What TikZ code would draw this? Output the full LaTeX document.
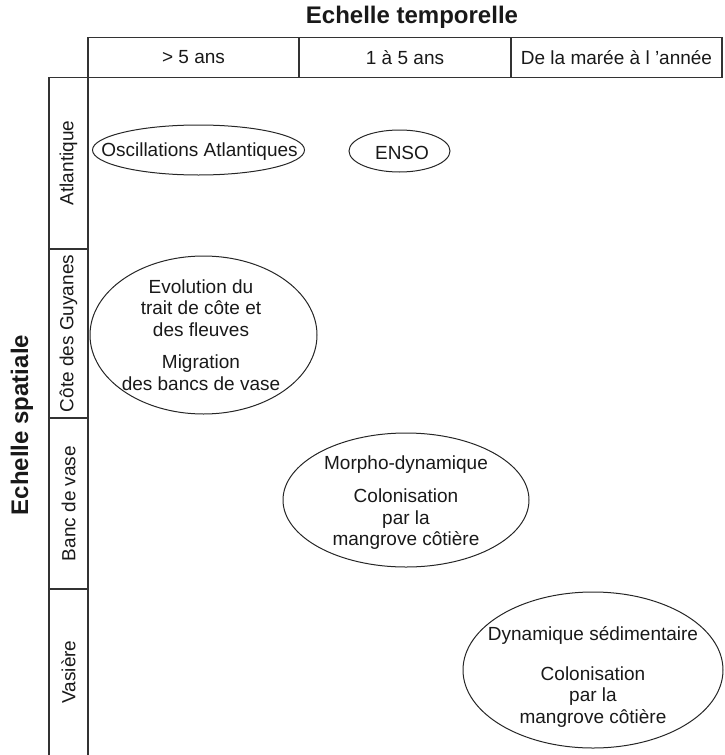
\documentclass[tikz,border=0pt]{standalone}
\usepackage{fontspec}
\setmainfont{Liberation Sans}
\usetikzlibrary{shapes.geometric}
\tikzset{
  grid/.style={line width=1.1pt, draw=black!80},
  bubble/.style={ellipse, draw=black!85, line width=1pt, inner sep=0pt},
  txt/.style={font=\fontsize{19}{21.7}\selectfont, align=center, inner sep=0pt, text=black!90},
  ttl/.style={font=\fontsize{24}{27}\selectfont\bfseries, inner sep=0pt, text=black!90}
}
\begin{document}
\begin{tikzpicture}[x=1pt,y=-1pt]
\useasboundingbox (0,0) rectangle (725,755);
% header
\draw[grid] (88,37.5) rectangle (722,77.5);
\draw[grid] (299,37.5) -- (299,77.5);
\draw[grid] (511,37.5) -- (511,77.5);
% left column
\draw[grid] (88,77.5) -- (88,755);
\draw[grid] (49,755) -- (49,77.5) -- (88,77.5);
\draw[grid] (49,249) -- (88,249);
\draw[grid] (49,418) -- (88,418);
\draw[grid] (49,589) -- (88,589);
% titles
\node[ttl] (tt) at (412,17) {Echelle temporelle};
\node[ttl, rotate=90] (ts) at (22,425) {Echelle spatiale};
% header labels
\node[txt] (h1) at (193.5,57.5) {> 5 ans};
\node[txt] (h2) at (405,57.5) {1 à 5 ans};
\node[txt] (h3) at (616.5,57.5) {De la marée à l 'année};
% row labels
\node[txt, rotate=90] (r1) at (68.5,163) {Atlantique};
\node[txt, rotate=90] (r2) at (68.5,333.5) {Côte des Guyanes};
\node[txt, rotate=90] (r3) at (68.5,503.5) {Banc de vase};
\node[txt, rotate=90] (r4) at (68.5,672) {Vasière};
% ellipses
\node[bubble, minimum width=212pt, minimum height=50pt] (e1) at (198.5,150) {};
\node[txt] (t1) at (199.5,151.5) {Oscillations Atlantiques};
\node[bubble, minimum width=101pt, minimum height=42pt] (e2) at (399.5,151) {};
\node[txt] (t2) at (402,153) {ENSO};
\node[bubble, minimum width=227pt, minimum height=158pt] (e3) at (203.5,335) {};
\node[txt] (t3) at (201,335) {Evolution du\\trait de côte et\\des fleuves\\[10.3pt]Migration\\des bancs de vase};
\node[bubble, minimum width=246pt, minimum height=134pt] (e4) at (406,500) {};
\node[txt] (t4) at (406,503) {Morpho-dynamique\\[11pt]Colonisation\\par la\\mangrove côtière};
\node[bubble, minimum width=260pt, minimum height=156pt] (e5) at (593,670) {};
\node[txt] (t5) at (593,677) {Dynamique sédimentaire\\[18pt]Colonisation\\par la\\mangrove côtière};
\end{tikzpicture}
\end{document}
